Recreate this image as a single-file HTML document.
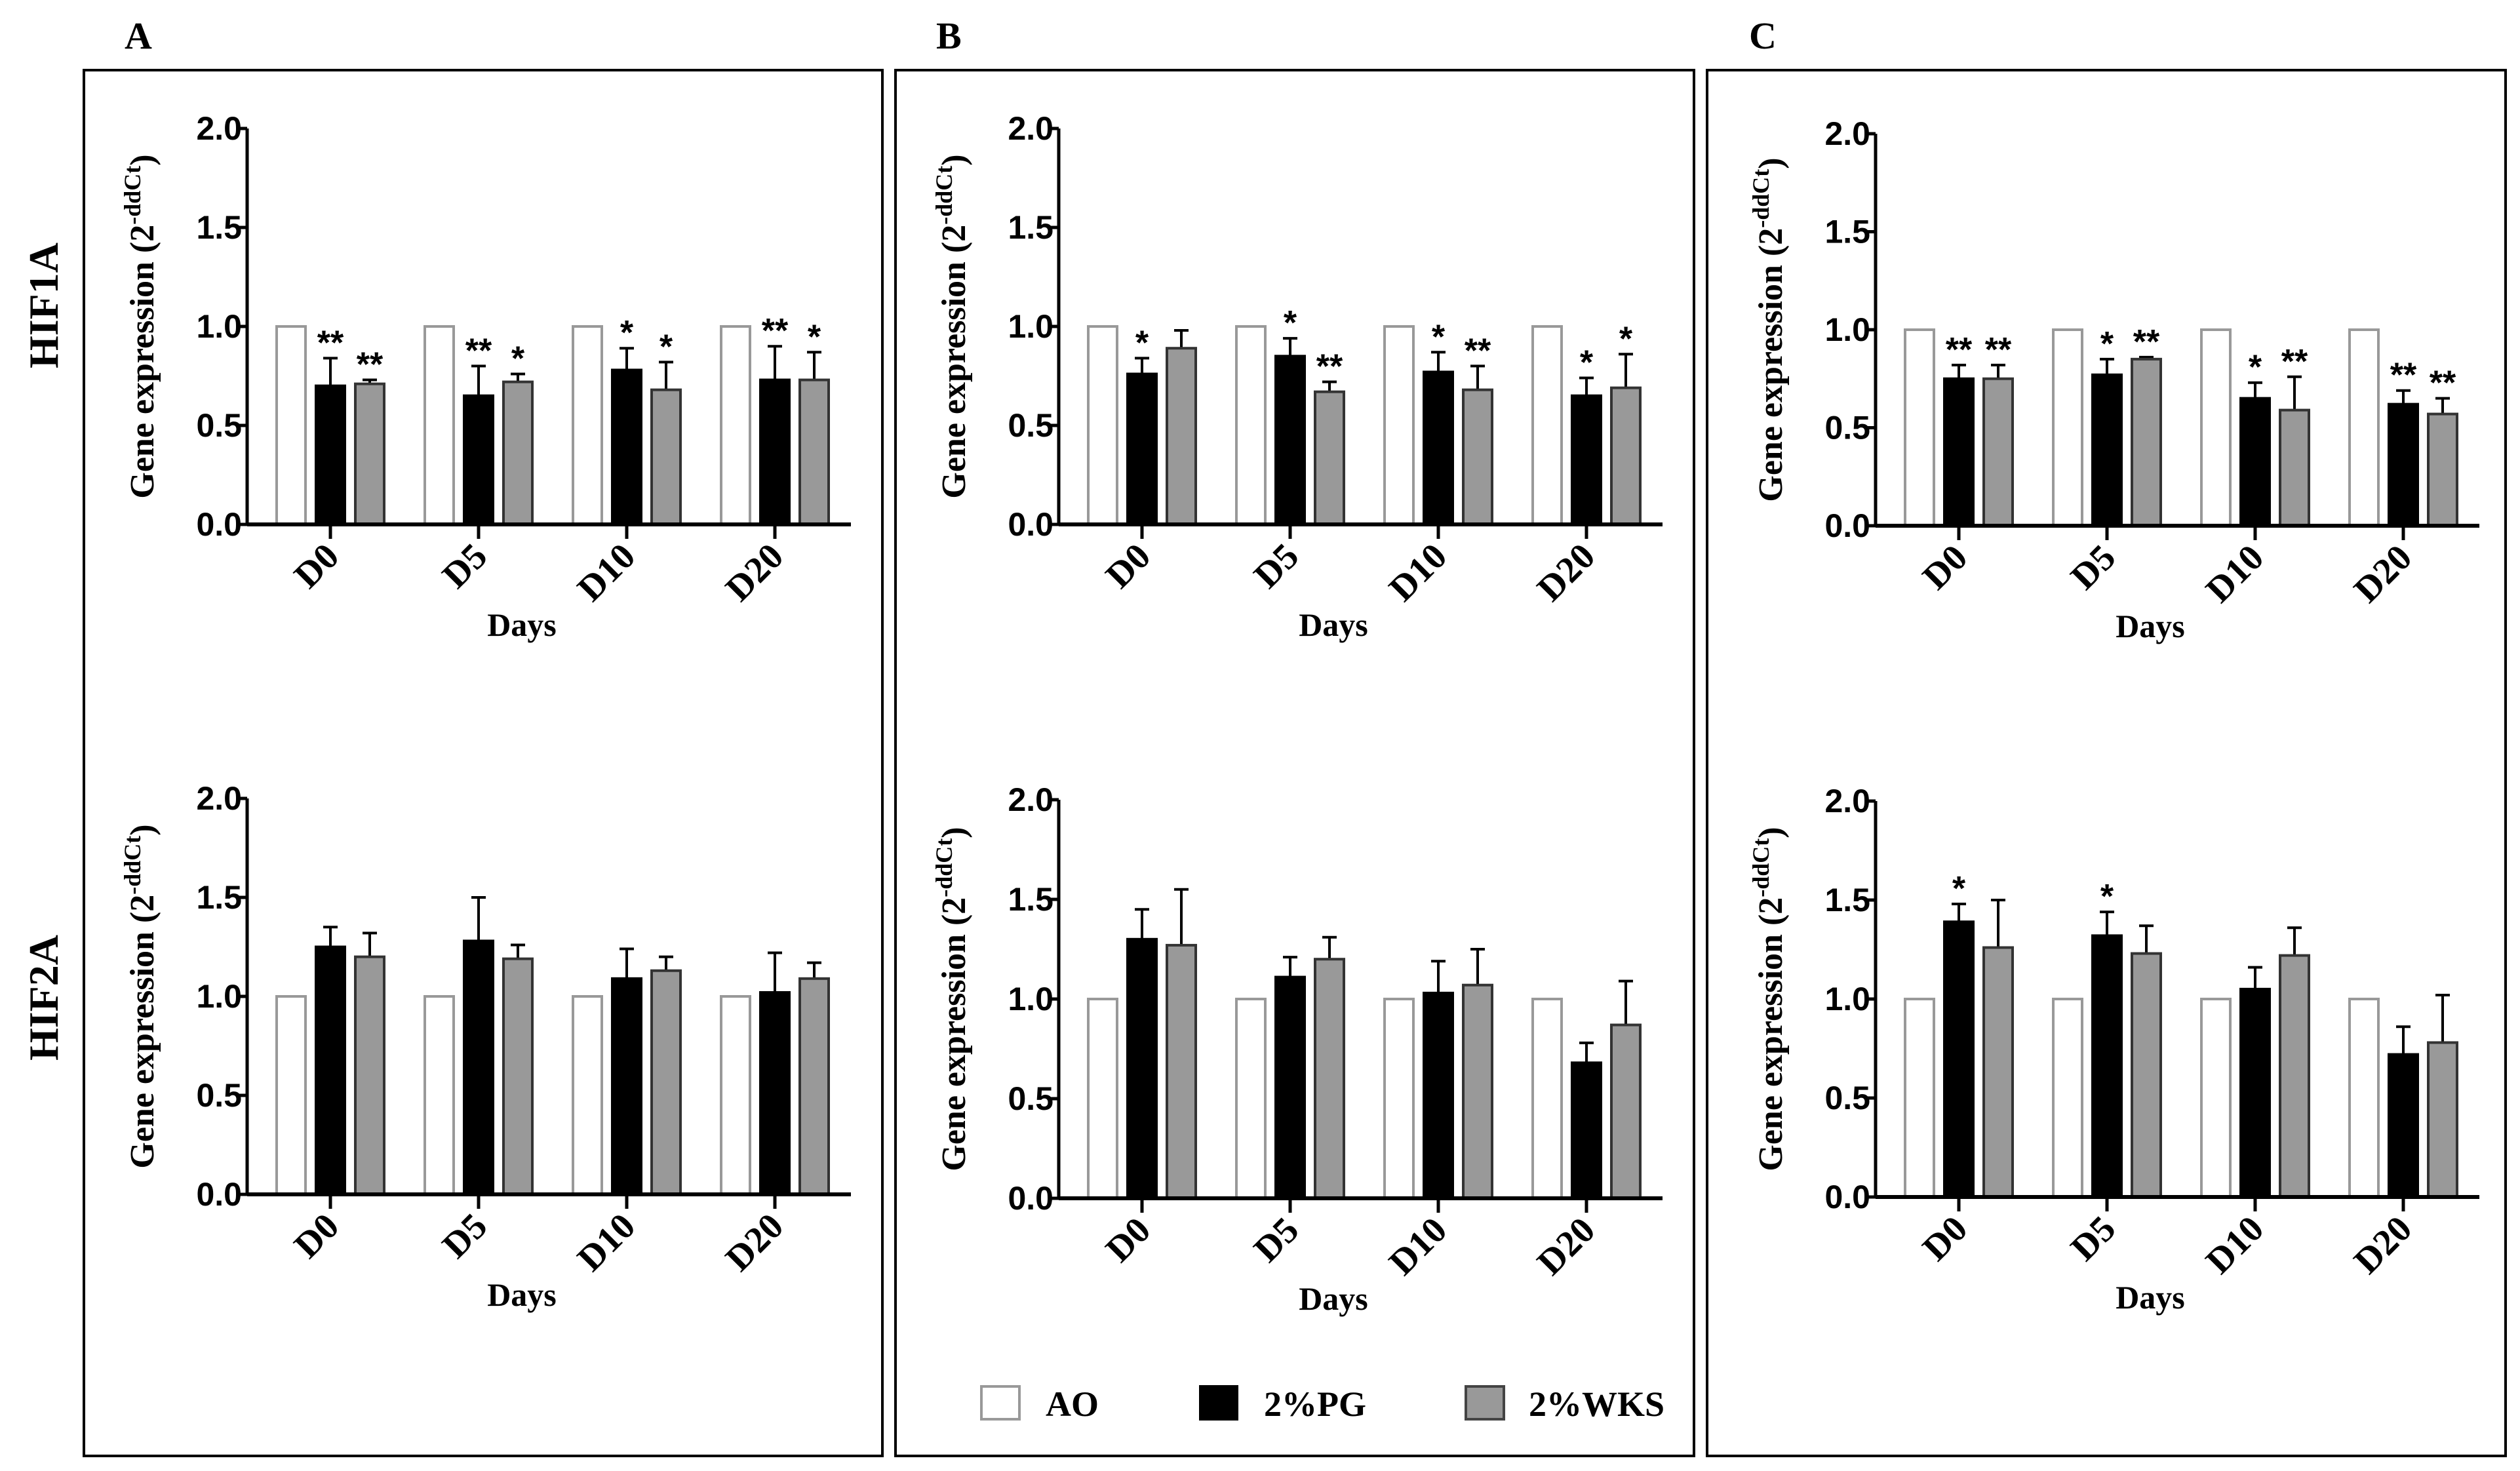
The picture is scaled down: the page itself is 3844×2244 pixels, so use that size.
<!DOCTYPE html>
<html><head><meta charset="utf-8">
<style>
html,body{margin:0;padding:0;background:#fff;}
svg{display:block;}
text{font-family:"Liberation Serif",serif;font-weight:bold;fill:#000;}
.tick{font-family:"Liberation Sans Narrow","Liberation Sans",sans-serif;font-weight:bold;}
</style></head>
<body>
<svg id="fig" width="3844" height="2244" viewBox="0 0 3844 2244" xmlns="http://www.w3.org/2000/svg">
<rect x="0" y="0" width="3844" height="2244" fill="#fff"/>
<rect x="128" y="107" width="1218" height="2114" fill="none" stroke="#000" stroke-width="4"/>
<rect x="1366" y="107" width="1218" height="2114" fill="none" stroke="#000" stroke-width="4"/>
<rect x="2604" y="107" width="1218" height="2114" fill="none" stroke="#000" stroke-width="4"/>
<text x="190" y="74" font-size="58">A</text>
<text x="1428" y="74" font-size="58">B</text>
<text x="2668" y="74" font-size="58">C</text>
<text transform="translate(88,466) rotate(-90)" text-anchor="middle" font-size="64">HIF1A</text>
<text transform="translate(88,1522) rotate(-90)" text-anchor="middle" font-size="64">HIF2A</text>
<g>
<rect x="1497" y="2115" width="58" height="50" fill="#fff" stroke="#999" stroke-width="4"/>
<text x="1595" y="2160" font-size="54">AO</text>
<rect x="1831" y="2115" width="56" height="50" fill="#000" stroke="#000" stroke-width="4"/>
<text x="1928" y="2160" font-size="54">2%PG</text>
<rect x="2236" y="2115" width="58" height="50" fill="#999" stroke="#444" stroke-width="4"/>
<text x="2332" y="2160" font-size="54">2%WKS</text>
</g>
<g id="charts"></g>
</svg>
<script>
const categories = ["D0","D5","D10","D20"];
const yTicks = [0, 0.5, 1.0, 1.5, 2.0];
const yTickLabels = ["0.0","0.5","1.0","1.5","2.0"];
const aoValues = [1,1,1,1];
// HIF1A
const aTopPG = [0.70,0.65,0.78,0.73];   const aTopPGErr = [0.14,0.15,0.11,0.17];
const aTopWKS = [0.71,0.72,0.68,0.73];  const aTopWKSErr = [0.02,0.04,0.14,0.14];
const aTopPGStars = ["**","**","*","**"]; const aTopWKSStars = ["**","*","*","*"];
const bTopPG = [0.76,0.85,0.77,0.65];   const bTopPGErr = [0.08,0.09,0.10,0.09];
const bTopWKS = [0.89,0.67,0.68,0.69];  const bTopWKSErr = [0.09,0.05,0.12,0.17];
const bTopPGStars = ["*","*","*","*"]; const bTopWKSStars = ["","**","**","*"];
const cTopPG = [0.75,0.77,0.65,0.62];   const cTopPGErr = [0.07,0.08,0.08,0.07];
const cTopWKS = [0.75,0.85,0.59,0.57];  const cTopWKSErr = [0.07,0.01,0.17,0.08];
const cTopPGStars = ["**","*","*","**"]; const cTopWKSStars = ["**","**","**","**"];
// HIF2A
const aBotPG = [1.25,1.28,1.09,1.02];   const aBotPGErr = [0.10,0.22,0.15,0.20];
const aBotWKS = [1.20,1.19,1.13,1.09];  const aBotWKSErr = [0.12,0.07,0.07,0.08];
const bBotPG = [1.30,1.11,1.03,0.68];   const bBotPGErr = [0.15,0.10,0.16,0.10];
const bBotWKS = [1.27,1.20,1.07,0.87];  const bBotWKSErr = [0.28,0.11,0.18,0.22];
const cBotPG = [1.39,1.32,1.05,0.72];   const cBotPGErr = [0.09,0.12,0.11,0.14];
const cBotWKS = [1.26,1.23,1.22,0.78];  const cBotWKSErr = [0.24,0.14,0.14,0.24];
const noStars = ["","","",""];
const cBotPGStars = ["*","*","",""];

const NS = "http://www.w3.org/2000/svg";
const root = document.getElementById("charts");
function mk(tag, attrs, parent){ const e=document.createElementNS(NS,tag); for(const k in attrs) e.setAttribute(k,attrs[k]); parent.appendChild(e); return e; }

function drawChart(id, ox, y0, y2, pg, pgErr, wks, wksErr, pgStars, wksStars){
  const g = mk("g",{},root);
  
  
  const axisX = 377+ox, endX = 1298+ox;
  const yScale = v => y0 - (y0-y2)*v/2;
  const xScale = i => 504 + ox + i*226;
  const bw = 44, off = 60;
  const ya = mk("line",{x1:axisX,y1:y2,x2:axisX,y2:y0,stroke:"#000","stroke-width":5},g);
  
  
  yTicks.forEach((t,i)=>{
    const y = yScale(t);
    mk("line",{x1:axisX-14,y1:y,x2:axisX,y2:y,stroke:"#000","stroke-width":5},g);
    const tl = mk("text",{x:axisX-8,y:y+17,"text-anchor":"end","font-size":50,class:"tick"},g);
    tl.textContent = yTickLabels[i];
    
    
  });
  const yt = mk("text",{transform:`translate(${234+ox},${(y0+y2)/2}) rotate(-90)`,"text-anchor":"middle","font-size":52},g);
  yt.innerHTML = 'Gene expression (2<tspan dy="-20" font-size="36">-ddCt</tspan><tspan dy="20">)</tspan>';
  
  
  categories.forEach((c,i)=>{
    const cx = xScale(i);
    const series = [
      {v:aoValues[i], e:0, fill:"#fff", stroke:"#999", x:cx-off, s:"", n:"bar-ao-"},
      {v:pg[i], e:pgErr[i], fill:"#000", stroke:"#000", x:cx, s:pgStars[i], n:"bar-pg-"},
      {v:wks[i], e:wksErr[i], fill:"#999", stroke:"#333", x:cx+off, s:wksStars[i], n:"bar-wks-"}
    ];
    series.forEach(sr=>{
      const top = yScale(sr.v);
      if(sr.e>0){
        const et = yScale(sr.v+sr.e);
        mk("line",{x1:sr.x,y1:top,x2:sr.x,y2:et,stroke:"#000","stroke-width":4},g);
        mk("line",{x1:sr.x-11,y1:et,x2:sr.x+11,y2:et,stroke:"#000","stroke-width":4},g);
      }
      const r = mk("rect",{x:sr.x-bw/2,y:top,width:bw,height:y0-top,fill:sr.fill,stroke:sr.stroke,"stroke-width":4},g);
      
      
      if(sr.s){
        const st = mk("text",{x:sr.x,y:yScale(sr.v+sr.e)-6,"text-anchor":"middle","font-size":52,class:"tick"},g);
        st.textContent = sr.s;
        
        
      }
    });
    mk("line",{x1:cx,y1:y0,x2:cx,y2:y0+22,stroke:"#000","stroke-width":5},g);
    const xl = mk("text",{transform:`translate(${cx+16},${y0+52}) rotate(-45)`,"text-anchor":"end","font-size":56},g);
    xl.textContent = c;
    
    
  });
  const xa = mk("line",{x1:axisX,y1:y0,x2:endX,y2:y0,stroke:"#000","stroke-width":6},g);
  
  
  const xt = mk("text",{x:796+ox,y:y0+170,"text-anchor":"middle","font-size":50},g);
  xt.textContent = "Days";
  
  
}
drawChart("chart-a-hif1a",0,800,196,aTopPG,aTopPGErr,aTopWKS,aTopWKSErr,aTopPGStars,aTopWKSStars);
drawChart("chart-b-hif1a",1238,800,196,bTopPG,bTopPGErr,bTopWKS,bTopWKSErr,bTopPGStars,bTopWKSStars);
drawChart("chart-c-hif1a",2484,802,204,cTopPG,cTopPGErr,cTopWKS,cTopWKSErr,cTopPGStars,cTopWKSStars);
drawChart("chart-a-hif2a",0,1822,1218,aBotPG,aBotPGErr,aBotWKS,aBotWKSErr,noStars,noStars);
drawChart("chart-b-hif2a",1238,1828,1220,bBotPG,bBotPGErr,bBotWKS,bBotWKSErr,noStars,noStars);
drawChart("chart-c-hif2a",2484,1826,1222,cBotPG,cBotPGErr,cBotWKS,cBotWKSErr,cBotPGStars,noStars);
</script>
</body></html>
